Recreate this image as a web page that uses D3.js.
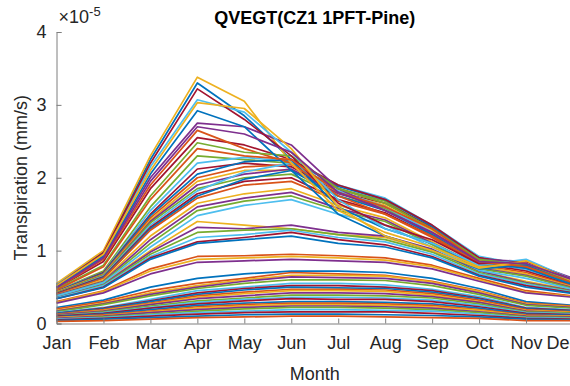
<!DOCTYPE html>
<html>
<head>
<meta charset="utf-8">
<script src="https://cdn.jsdelivr.net/npm/d3@7"></script>
<style>
  html, body { margin: 0; padding: 0; background: #fff; overflow: hidden; }
  svg { display: block; font-family: "Liberation Sans", Arial, Helvetica, sans-serif; }
</style>
</head>
<body>
<svg id="chart" width="570" height="386"></svg>
<script>
// Monthly mean vegetation transpiration (units of 1e-5 mm/s), one line per ensemble member
const months = ["Jan","Feb","Mar","Apr","May","Jun","Jul","Aug","Sep","Oct","Nov","Dec"];
const yTicks = [0, 1, 2, 3, 4];

// members with an early (April) peak
const springPeak = [
  [0.48, 0.85, 1.85, 2.55, 2.45, 2.25, 1.90, 1.70, 1.35, 0.90, 0.78, 0.58],
  [0.54, 0.98, 2.25, 3.30, 2.85, 2.25, 1.60, 1.30, 1.10, 0.80, 0.82, 0.58],
  [0.48, 0.88, 1.90, 2.65, 2.40, 2.20, 1.75, 1.50, 1.20, 0.83, 0.80, 0.58],
  [0.55, 1.00, 2.30, 3.38, 3.05, 2.20, 1.55, 1.25, 1.05, 0.78, 0.80, 0.58],
  [0.50, 0.92, 2.00, 2.75, 2.70, 2.45, 1.85, 1.55, 1.25, 0.88, 0.85, 0.62],
  [0.47, 0.80, 1.75, 2.48, 2.35, 2.30, 1.85, 1.65, 1.30, 0.88, 0.80, 0.57],
  [0.53, 0.96, 2.15, 3.07, 2.90, 2.35, 1.70, 1.30, 1.10, 0.80, 0.88, 0.60],
  [0.52, 0.97, 2.20, 3.22, 2.80, 2.30, 1.65, 1.35, 1.15, 0.82, 0.85, 0.60],
  [0.50, 0.93, 2.05, 2.92, 2.70, 2.10, 1.50, 1.20, 1.00, 0.75, 0.80, 0.55],
  [0.46, 0.78, 1.70, 2.40, 2.30, 2.25, 1.80, 1.60, 1.30, 0.85, 0.78, 0.56],
  [0.52, 0.95, 2.10, 3.03, 2.95, 2.40, 1.60, 1.20, 1.00, 0.76, 0.86, 0.58],
  [0.49, 0.90, 1.95, 2.70, 2.60, 2.35, 1.80, 1.55, 1.25, 0.85, 0.82, 0.60]
];

// members with a broad late-spring / early-summer plateau
const summerPeak = [
  [0.45, 0.72, 1.60, 2.30, 2.25, 2.20, 1.85, 1.68, 1.30, 0.90, 0.75, 0.55],
  [0.45, 0.70, 1.55, 2.20, 2.28, 2.22, 1.90, 1.72, 1.35, 0.92, 0.80, 0.56],
  [0.44, 0.70, 1.50, 2.12, 2.20, 2.15, 1.80, 1.65, 1.32, 0.90, 0.82, 0.57],
  [0.44, 0.69, 1.48, 2.05, 2.22, 2.25, 1.88, 1.70, 1.33, 0.88, 0.78, 0.55],
  [0.43, 0.68, 1.45, 2.00, 2.15, 2.18, 1.85, 1.65, 1.30, 0.87, 0.80, 0.56],
  [0.43, 0.67, 1.42, 1.95, 2.10, 2.10, 1.80, 1.62, 1.28, 0.86, 0.76, 0.55],
  [0.42, 0.66, 1.40, 1.90, 2.05, 2.12, 1.78, 1.60, 1.25, 0.85, 0.75, 0.54],
  [0.42, 0.66, 1.38, 1.85, 2.00, 2.05, 1.75, 1.58, 1.22, 0.84, 0.78, 0.54],
  [0.41, 0.65, 1.35, 1.82, 2.08, 2.20, 1.82, 1.60, 1.25, 0.85, 0.74, 0.53],
  [0.41, 0.64, 1.32, 1.78, 1.95, 2.00, 1.70, 1.52, 1.20, 0.82, 0.72, 0.52],
  [0.40, 0.63, 1.30, 1.75, 1.98, 2.10, 1.75, 1.55, 1.22, 0.83, 0.76, 0.53],
  [0.40, 0.62, 1.28, 1.72, 1.90, 1.95, 1.68, 1.50, 1.18, 0.80, 0.70, 0.51],
  [0.39, 0.60, 1.20, 1.65, 1.78, 1.85, 1.62, 1.45, 1.12, 0.78, 0.68, 0.50],
  [0.39, 0.58, 1.15, 1.60, 1.72, 1.80, 1.58, 1.42, 1.10, 0.76, 0.66, 0.49],
  [0.38, 0.57, 1.10, 1.55, 1.68, 1.75, 1.55, 1.40, 1.08, 0.75, 0.65, 0.48],
  [0.38, 0.56, 1.05, 1.48, 1.62, 1.70, 1.50, 1.35, 1.05, 0.73, 0.62, 0.47]
];

// intermediate members
const moderate = [
  [0.36, 0.55, 1.00, 1.40, 1.35, 1.30, 1.22, 1.18, 1.00, 0.72, 0.58, 0.46],
  [0.36, 0.54, 0.98, 1.32, 1.30, 1.35, 1.25, 1.20, 1.02, 0.72, 0.56, 0.45],
  [0.35, 0.53, 0.95, 1.25, 1.28, 1.30, 1.22, 1.15, 0.98, 0.70, 0.55, 0.44],
  [0.35, 0.52, 0.92, 1.18, 1.22, 1.28, 1.18, 1.12, 0.95, 0.68, 0.54, 0.43],
  [0.34, 0.50, 0.90, 1.12, 1.18, 1.25, 1.15, 1.08, 0.92, 0.66, 0.52, 0.42],
  [0.34, 0.49, 0.88, 1.10, 1.15, 1.20, 1.10, 1.05, 0.90, 0.65, 0.50, 0.41],
  [0.30, 0.45, 0.75, 0.92, 0.93, 0.95, 0.93, 0.90, 0.80, 0.62, 0.45, 0.38],
  [0.29, 0.44, 0.72, 0.88, 0.90, 0.92, 0.90, 0.87, 0.78, 0.60, 0.43, 0.37],
  [0.28, 0.42, 0.68, 0.84, 0.86, 0.88, 0.86, 0.84, 0.75, 0.58, 0.42, 0.36]
];

// low-transpiration members
const lowFlux = [
  [0.22, 0.32, 0.50, 0.62, 0.68, 0.72, 0.72, 0.70, 0.62, 0.48, 0.30, 0.25],
  [0.20, 0.30, 0.45, 0.55, 0.62, 0.70, 0.68, 0.66, 0.58, 0.45, 0.28, 0.24],
  [0.18, 0.28, 0.42, 0.52, 0.60, 0.66, 0.66, 0.65, 0.57, 0.44, 0.27, 0.23],
  [0.17, 0.27, 0.40, 0.50, 0.58, 0.64, 0.63, 0.62, 0.55, 0.42, 0.26, 0.22],
  [0.16, 0.26, 0.38, 0.48, 0.55, 0.60, 0.60, 0.59, 0.52, 0.40, 0.25, 0.21],
  [0.15, 0.22, 0.33, 0.45, 0.50, 0.55, 0.55, 0.53, 0.47, 0.37, 0.22, 0.19],
  [0.14, 0.21, 0.31, 0.42, 0.48, 0.52, 0.52, 0.50, 0.45, 0.35, 0.21, 0.18],
  [0.14, 0.20, 0.30, 0.40, 0.46, 0.50, 0.49, 0.48, 0.43, 0.34, 0.20, 0.17],
  [0.13, 0.19, 0.28, 0.38, 0.43, 0.47, 0.47, 0.46, 0.41, 0.32, 0.19, 0.16],
  [0.12, 0.18, 0.27, 0.36, 0.41, 0.45, 0.45, 0.44, 0.39, 0.30, 0.18, 0.15],
  [0.12, 0.17, 0.26, 0.34, 0.38, 0.42, 0.42, 0.41, 0.37, 0.29, 0.17, 0.14],
  [0.11, 0.16, 0.24, 0.31, 0.35, 0.39, 0.39, 0.38, 0.35, 0.27, 0.16, 0.14],
  [0.10, 0.15, 0.22, 0.29, 0.33, 0.36, 0.36, 0.35, 0.32, 0.25, 0.15, 0.13],
  [0.10, 0.14, 0.21, 0.27, 0.31, 0.34, 0.33, 0.33, 0.30, 0.23, 0.14, 0.12],
  [0.09, 0.13, 0.19, 0.25, 0.28, 0.30, 0.30, 0.29, 0.27, 0.21, 0.13, 0.11],
  [0.08, 0.12, 0.17, 0.23, 0.26, 0.28, 0.28, 0.27, 0.25, 0.19, 0.12, 0.10],
  [0.08, 0.11, 0.16, 0.21, 0.24, 0.26, 0.26, 0.25, 0.23, 0.18, 0.11, 0.10],
  [0.07, 0.10, 0.15, 0.19, 0.22, 0.24, 0.24, 0.23, 0.21, 0.16, 0.10, 0.09],
  [0.06, 0.09, 0.13, 0.17, 0.20, 0.22, 0.22, 0.21, 0.19, 0.15, 0.09, 0.08],
  [0.06, 0.08, 0.12, 0.15, 0.17, 0.19, 0.19, 0.18, 0.17, 0.13, 0.08, 0.07],
  [0.05, 0.07, 0.10, 0.13, 0.15, 0.16, 0.16, 0.16, 0.14, 0.11, 0.07, 0.06],
  [0.04, 0.06, 0.08, 0.10, 0.12, 0.13, 0.13, 0.12, 0.11, 0.09, 0.06, 0.05],
  [0.03, 0.04, 0.06, 0.08, 0.09, 0.10, 0.10, 0.09, 0.08, 0.07, 0.04, 0.04]
];

const colorOrder = ["#0072BD", "#D95319", "#EDB120", "#7E2F8E", "#77AC30", "#4DBEEE", "#A2142F"];

const allSeries = [...lowFlux, ...moderate, ...summerPeak, ...springPeak];

const svg = d3.select("#chart");
const plotLeft = 56.5, plotRight = 573, plotTop = 32, plotBottom = 323.5;

const x = d3.scalePoint().domain(months).range([plotLeft, plotRight]);
const y = d3.scaleLinear().domain([0, 4]).range([plotBottom, plotTop]);

const axisColor = "#7f7f7f";
const textColor = "#262626";
const fontSize = 18;

// series
const line = d3.line().x((d, i) => x(months[i])).y(d => y(d));
svg.append("g")
  .selectAll("path")
  .data(allSeries)
  .join("path")
  .attr("d", line)
  .attr("fill", "none")
  .attr("stroke", (d, i) => colorOrder[i % colorOrder.length])
  .attr("stroke-width", 1.7)
  .attr("stroke-linejoin", "round");

// x axis (ticks point inward)
const xAxis = svg.append("g")
  .attr("transform", `translate(0,${plotBottom})`)
  .call(d3.axisBottom(x).tickSizeInner(-5).tickSizeOuter(0).tickPadding(13));
xAxis.select(".domain").attr("stroke", axisColor);
xAxis.selectAll(".tick line").attr("stroke", axisColor);
xAxis.selectAll(".tick text")
  .attr("fill", textColor).attr("font-size", fontSize)
  .attr("font-family", "Liberation Sans, Arial, sans-serif");
// last month label sits at the right edge of the figure
xAxis.selectAll(".tick text").filter(d => d === "Dec").attr("dx", -11);

// y axis
const yAxis = svg.append("g")
  .attr("transform", `translate(${plotLeft},0)`)
  .call(d3.axisLeft(y).tickValues(yTicks).tickFormat(d3.format("d")).tickSizeInner(-5).tickSizeOuter(-5).tickPadding(10));
yAxis.select(".domain").attr("stroke", axisColor);
yAxis.selectAll(".tick line").attr("stroke", axisColor);
yAxis.selectAll(".tick text")
  .attr("fill", textColor).attr("font-size", fontSize)
  .attr("font-family", "Liberation Sans, Arial, sans-serif");

// exponent label
const expo = svg.append("text")
  .attr("x", plotLeft + 2).attr("y", 23)
  .attr("fill", textColor).attr("font-size", fontSize);
expo.append("tspan").text("\u00d710");
expo.append("tspan").attr("dy", -7).attr("font-size", 13).text("-5");

// title
svg.append("text")
  .attr("x", (plotLeft + plotRight) / 2).attr("y", 24)
  .attr("text-anchor", "middle")
  .attr("font-weight", "bold").attr("font-size", fontSize)
  .attr("fill", "#000")
  .text("QVEGT(CZ1 1PFT-Pine)");

// axis titles
svg.append("text")
  .attr("x", (plotLeft + plotRight) / 2).attr("y", 380)
  .attr("text-anchor", "middle")
  .attr("font-size", fontSize).attr("fill", textColor)
  .text("Month");

svg.append("text")
  .attr("transform", `translate(27,${(plotTop + plotBottom) / 2}) rotate(-90)`)
  .attr("text-anchor", "middle")
  .attr("font-size", fontSize).attr("fill", textColor)
  .text("Transpiration (mm/s)");
</script>
</body>
</html>
